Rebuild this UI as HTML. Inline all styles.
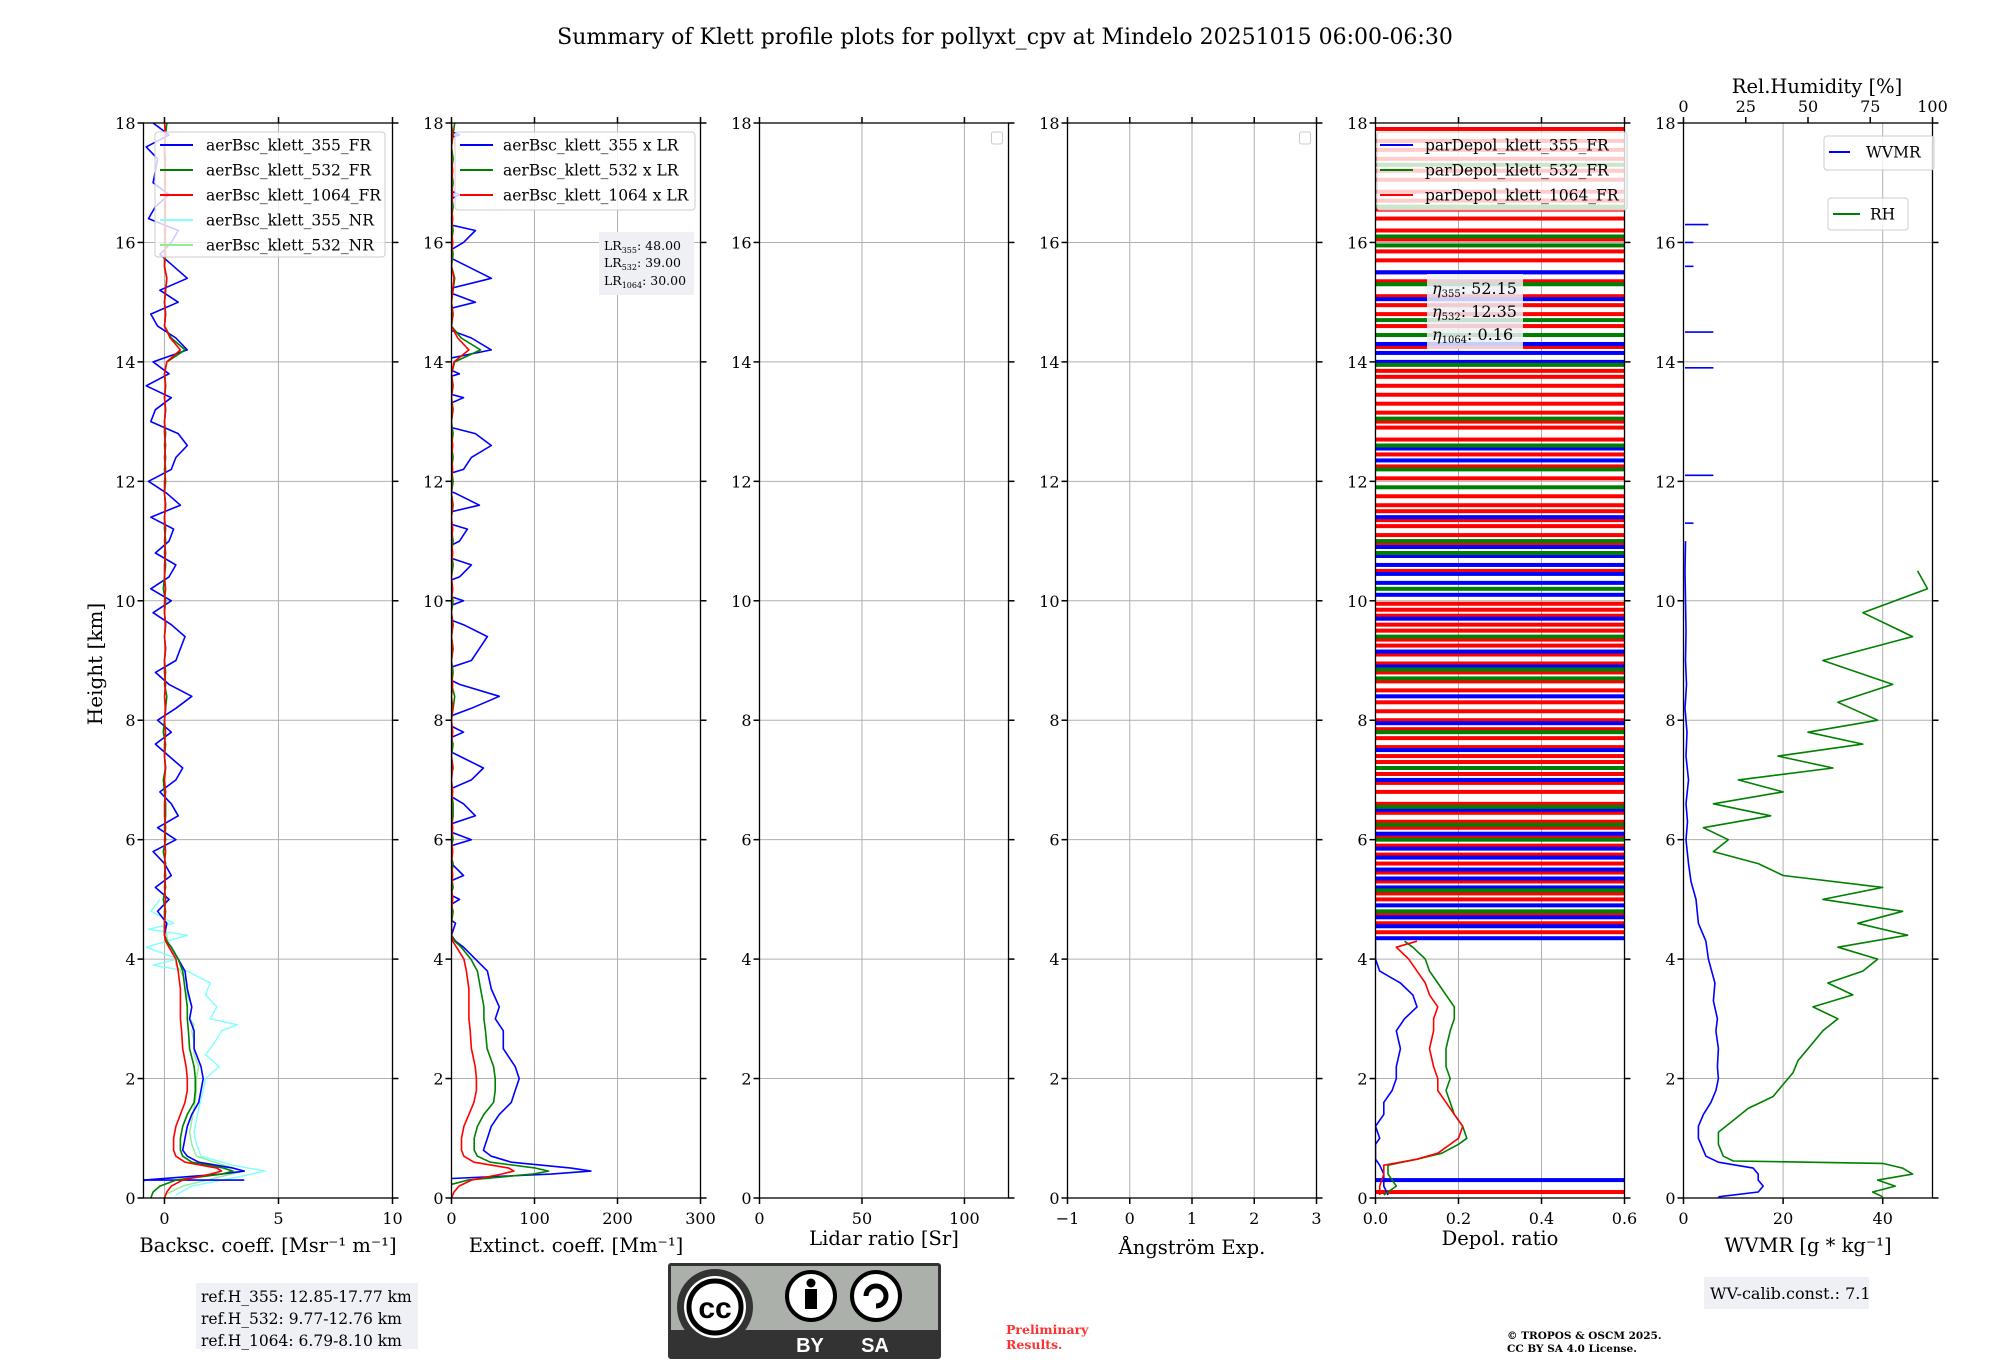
<!DOCTYPE html>
<html><head><meta charset="utf-8">
<style>
html,body{margin:0;padding:0;background:#fff;}
svg{display:block;font-family:"DejaVu Serif","Liberation Serif",serif;}
</style></head>
<body>
<svg id="chart" width="2000" height="1360" viewBox="0 0 2000 1360" xmlns="http://www.w3.org/2000/svg">
<text x="1005" y="44" font-size="22" text-anchor="middle">Summary of Klett profile plots for pollyxt_cpv at Mindelo 20251015 06:00-06:30</text>
<text transform="translate(102,664) rotate(-90)" font-size="20" text-anchor="middle">Height [km]</text>
<g id="panels"></g>
<g>
<rect x="196" y="1283" width="222" height="66" fill="#eef0f5"/>
<text x="201" y="1302" font-size="15.5">ref.H_355: 12.85-17.77 km</text>
<text x="201" y="1324" font-size="15.5">ref.H_532: 9.77-12.76 km</text>
<text x="201" y="1346" font-size="15.5">ref.H_1064: 6.79-8.10 km</text>
</g>
<g>
<rect x="668" y="1263" width="273" height="96" rx="3" fill="#333" />
<rect x="671" y="1266" width="267" height="64" fill="#abb1aa"/>
<circle cx="715" cy="1307" r="38" fill="#333"/>
<circle cx="715" cy="1307" r="31" fill="#fff"/>
<circle cx="715" cy="1307" r="26" fill="none" stroke="#000" stroke-width="5"/>
<text x="715" y="1318" font-family="Liberation Sans,sans-serif" font-weight="bold" font-size="30" text-anchor="middle">cc</text>
<circle cx="811" cy="1296" r="24" fill="#fff" stroke="#000" stroke-width="4"/>
<circle cx="811" cy="1283" r="4.5" fill="#000"/>
<rect x="805" y="1289" width="12" height="20" fill="#000"/>
<circle cx="876" cy="1296" r="24" fill="#fff" stroke="#000" stroke-width="4"/>
<path d="M866 1296 A10 10 0 1 1 876 1306" fill="none" stroke="#000" stroke-width="5"/>
<text x="810" y="1352" fill="#fff" font-family="Liberation Sans,sans-serif" font-weight="bold" font-size="20" text-anchor="middle">BY</text>
<text x="875" y="1352" fill="#fff" font-family="Liberation Sans,sans-serif" font-weight="bold" font-size="20" text-anchor="middle">SA</text>
</g>
<text x="1006" y="1334" font-size="12.5" font-weight="bold" fill="#ff3030">Preliminary</text>
<text x="1006" y="1349" font-size="12.5" font-weight="bold" fill="#ff3030">Results.</text>
<text x="1507" y="1339" font-size="10.5" font-weight="bold">© TROPOS &amp; OSCM 2025.</text>
<text x="1507" y="1352" font-size="10.5" font-weight="bold">CC BY SA 4.0 License.</text>
<g>
<rect x="1704" y="1277" width="165" height="32" fill="#eef0f5"/>
<text x="1710" y="1299" font-size="16">WV-calib.const.: 7.1</text>
</g>
</svg>
<script>
const bscH = [0.0,0.1,0.2,0.3,0.4,0.45,0.5,0.6,0.7,0.8,1.0,1.2,1.4,1.6,1.8,2.0,2.2,2.5,2.8,3.0,3.2,3.5,3.8,4.0,4.2,4.3,4.4];
const bsc355 = [-1.0,-1.0,-1.0,-0.9,2.5,3.5,3.0,1.5,1.0,0.8,0.9,1.0,1.2,1.5,1.6,1.7,1.6,1.3,1.3,1.1,1.2,1.0,0.9,0.6,0.3,0.1,0.0];
const bsc532 = [-0.6,-0.5,-0.2,0.5,2.5,3.0,2.6,1.2,0.8,0.7,0.7,0.8,1.0,1.3,1.35,1.35,1.3,1.1,1.05,1.0,1.0,0.9,0.8,0.6,0.3,0.1,0.0];
const bsc1064 = [0.0,0.1,0.3,0.8,2.0,2.5,2.3,0.9,0.5,0.4,0.4,0.5,0.7,0.9,1.0,1.0,0.95,0.8,0.75,0.7,0.7,0.7,0.6,0.5,0.2,0.05,0.0];
const ftH355 = [4.6,4.8,5.0,5.2,5.4,5.6,5.8,6.0,6.2,6.4,6.6,6.8,7.0,7.2,7.4,7.6,7.8,8.0,8.2,8.4,8.6,8.8,9.0,9.2,9.4,9.6,9.8,10.0,10.2,10.4,10.6,10.8,11.0,11.2,11.4,11.6,11.8,12.0,12.2,12.4,12.6,12.8,13.0,13.2,13.4,13.6,13.8,14.0,14.2,14.4,14.6,14.8,15.0,15.2,15.4,15.6,15.8,16.0,16.2,16.4,16.6,16.8,17.0,17.2,17.4,17.6,17.8,18.0];
const ftBsc355 = [0.1,-0.3,0.2,-0.4,0.3,0.0,-0.5,0.5,-0.3,0.6,0.3,-0.2,0.5,0.8,0.2,-0.4,0.3,-0.3,0.5,1.2,0.2,-0.4,0.5,0.7,0.9,0.3,-0.5,0.3,-0.6,0.2,0.5,-0.4,0.2,0.4,-0.6,0.7,0.1,-0.7,0.3,0.5,1.0,0.6,-0.6,-0.4,0.3,-0.8,0.2,-0.5,1.0,0.5,-0.3,-0.6,0.6,-0.2,1.0,0.4,-0.2,0.3,0.6,-0.7,-0.4,0.2,-0.5,-0.4,-0.3,-0.8,0.2,-0.5];
const ftBsc532 = [0.0,0.05,-0.05,0.05,0.0,0.05,-0.05,0.05,0.0,0.05,0.05,0.0,-0.05,0.05,0.0,0.05,-0.05,0.0,0.05,0.1,0.0,0.05,0.0,0.05,0.0,0.05,0.0,0.05,-0.05,0.0,0.05,0.0,0.05,0.0,0.0,0.05,0.0,0.05,0.0,0.05,0.0,0.05,0.0,0.05,0.0,0.05,0.0,0.1,0.9,0.3,0.0,0.05,0.0,0.05,0.1,0.0,0.05,0.0,0.05,0.0,0.05,0.0,0.05,0.0,0.05,0.0,0.05,0.1];
const ftBsc1064 = [0.0,0.0,0.05,0.0,0.05,0.0,0.05,0.0,0.05,0.0,0.0,0.05,0.0,0.05,0.0,0.0,0.05,0.0,0.05,0.0,0.05,0.0,0.0,0.05,0.0,0.05,0.0,0.0,0.05,0.0,0.0,0.05,0.0,0.05,0.0,0.05,0.0,0.0,0.05,0.0,0.05,0.0,0.0,0.05,0.0,0.05,0.0,0.1,0.7,0.25,0.0,0.05,0.0,0.05,0.1,0.0,0.0,0.05,0.0,0.05,0.0,0.05,0.0,0.05,0.0,0.0,0.05,0.0];
const nrH = [0.05,0.2,0.35,0.45,0.55,0.7,0.9,1.1,1.3,1.5,1.8,2.0,2.2,2.4,2.6,2.8,2.9,3.0,3.2,3.4,3.6,3.8,3.9,4.0,4.2,4.4,4.5,4.6,4.8,5.0];
const bsc355NR = [0.5,1.2,3.2,4.4,3.0,1.6,1.4,1.3,1.4,1.5,1.7,1.8,2.4,1.8,2.2,2.5,3.2,2.0,2.3,1.8,2.0,1.0,-0.5,0.6,-0.8,1.0,-0.7,0.4,-0.6,-0.2];
const bsc532NR = [0.0,0.8,2.4,3.5,2.6,1.4,1.2,1.1,1.2,1.3,1.4,1.4,1.5,1.3,1.3,1.2,1.3,1.1,1.2,1.0,1.0,0.7,0.5,0.5,0.2,0.1,0.0,0.0,0.0,0.0];
const LR355 = 48, LR532 = 39, LR1064 = 30;
const depH = [0.05,0.2,0.4,0.55,0.65,0.75,0.9,1.0,1.2,1.4,1.6,1.8,2.0,2.2,2.5,2.8,3.0,3.2,3.4,3.6,3.8,4.0,4.2,4.3];
const dep355 = [0.03,0.02,0.02,0.01,0.0,0.0,0.0,0.01,0.0,0.02,0.02,0.04,0.05,0.05,0.06,0.05,0.07,0.1,0.09,0.06,0.01,0.0,0.0,0.0];
const dep532 = [0.02,0.05,0.03,0.03,0.1,0.16,0.2,0.22,0.21,0.19,0.18,0.17,0.18,0.17,0.17,0.18,0.19,0.19,0.17,0.15,0.13,0.12,0.09,0.07];
const dep1064 = [0.01,0.01,0.02,0.02,0.1,0.15,0.18,0.2,0.21,0.19,0.17,0.15,0.15,0.14,0.13,0.14,0.14,0.15,0.13,0.12,0.1,0.08,0.05,0.1];
const spike355 = [0.3,4.35,4.55,4.7,4.9,5.2,5.35,5.5,5.7,5.85,6.1,6.5,7.0,7.5,7.95,8.4,8.9,9.15,9.7,10.1,10.3,10.45,10.6,10.75,10.9,11.4,12.35,12.55,14.0,14.15,14.3,15.05,15.5];
const spike532 = [4.8,5.15,6.0,6.25,6.55,7.2,7.8,8.7,8.85,9.4,10.2,10.8,11.0,11.9,12.2,12.6,13.05,13.95,14.45,14.7,15.3,15.95,16.1,16.6,17.3];
const spike1064 = [0.1,4.45,4.6,4.75,5.0,5.1,5.3,5.45,5.6,5.75,5.9,6.05,6.2,6.3,6.45,6.6,6.8,6.95,7.1,7.3,7.4,7.55,7.7,7.85,8.0,8.15,8.3,8.5,8.65,8.8,8.95,9.1,9.25,9.35,9.5,9.6,9.75,9.85,9.95,10.5,10.95,11.1,11.25,11.35,11.5,11.6,11.75,12.05,12.25,12.45,12.7,12.9,13.0,13.15,13.3,13.45,13.6,13.75,13.85,14.25,14.6,14.8,14.95,15.1,15.35,15.5,15.7,15.85,16.05,16.2,16.4,16.55,16.7,16.85,17.05,17.2,17.4,17.55,17.7,17.9];
const wvH = [0.02,0.1,0.2,0.3,0.4,0.5,0.6,0.7,0.8,1.0,1.2,1.4,1.6,1.8,2.0,2.2,2.5,2.8,3.0,3.3,3.6,4.0,4.3,4.6,5.0,5.3,5.6,6.0,6.3,6.6,7.0,7.4,7.8,8.2,8.6,9.0,9.5,10.0,10.5,11.0];
const wvmr = [7,15,16,15,15,14,7,4.5,4,3,3,4,5.5,6.5,7,6.8,7,6.5,6.8,6,6.3,5,4.5,3,2.5,1.5,1,0.5,0.8,0.5,1,0.5,0.7,0.3,0.6,0.4,0.5,0.4,0.3,0.4];
const rhH = [0.02,0.1,0.2,0.3,0.4,0.5,0.58,0.62,0.7,0.9,1.1,1.3,1.5,1.7,1.9,2.1,2.3,2.5,2.8,3.0,3.2,3.4,3.6,3.8,4.0,4.2,4.4,4.6,4.8,5.0,5.2,5.4,5.6,5.8,6.0,6.2,6.4,6.6,6.8,7.0,7.2,7.4,7.6,7.8,8.0,8.3,8.6,9.0,9.4,9.8,10.2,10.5];
const rh = [80,76,85,78,92,88,80,20,16,14,14,20,26,36,40,44,46,50,56,62,52,68,58,72,78,62,90,70,88,56,80,40,30,12,18,8,35,12,40,22,60,38,72,50,78,62,84,56,92,72,98,94];
const wvHigh = [[11.3,2],[12.1,6],[13.9,6],[14.5,6],[15.6,2],[16.0,2],[16.3,5]];

const TOP = 123, BOT = 1198, W = 249;
const LEFTS = [143.5, 451.5, 759.5, 1067.5, 1375.5, 1683.5];
const XR = [[-0.92,10],[0,300],[0,121.5],[-1,3],[0,0.6],[0,50]];
const XT = [[0,5,10],[0,100,200,300],[0,50,100],[-1,0,1,2,3],[0,0.2,0.4,0.6],[0,20,40]];
const XTL = [["0","5","10"],["0","100","200","300"],["0","50","100"],["\u22121","0","1","2","3"],["0.0","0.2","0.4","0.6"],["0","20","40"]];
const YT = [0,2,4,6,8,10,12,14,16,18];
const NS = "http://www.w3.org/2000/svg";
const root = document.getElementById('panels');
function yS(h){ return BOT - h*(BOT-TOP)/18; }
function xS(p,v){ const r=XR[p]; return LEFTS[p] + (v-r[0])/(r[1]-r[0])*W; }
function mk(tag, attrs, parent){ const e=document.createElementNS(NS,tag); for(const k in attrs) e.setAttribute(k,attrs[k]); (parent||root).appendChild(e); return e; }

const defs = mk('defs',{});
for(let p=0;p<6;p++){
  const cp = mk('clipPath',{id:'clip'+p},defs);
  mk('rect',{x:LEFTS[p],y:TOP,width:W,height:BOT-TOP},cp);
}

const xlabels = ["Backsc. coeff. [Msr\u207B\u00B9 m\u207B\u00B9]","Extinct. coeff. [Mm\u207B\u00B9]","Lidar ratio [Sr]","\u00C5ngstr\u00F6m Exp.","Depol. ratio","WVMR [g * kg\u207B\u00B9]"];
const xlabelY = [1252,1252,1245,1254,1245,1252];
for(let p=0;p<6;p++){
  const g = mk('g',{});
  
  
  const L = LEFTS[p];
  for(const v of XT[p]){
    const gl = mk('line',{x1:xS(p,v),x2:xS(p,v),y1:TOP,y2:BOT,stroke:'#b0b0b0','stroke-width':1},g);
    
    
  }
  for(const h of YT){
    const gl = mk('line',{x1:L,x2:L+W,y1:yS(h),y2:yS(h),stroke:'#b0b0b0','stroke-width':1},g);
    
    
  }
  const pg = mk('g',{'clip-path':'url(#clip'+p+')'},g);
  
  
  const fr = mk('rect',{x:L,y:TOP,width:W,height:BOT-TOP,fill:'none',stroke:'#000','stroke-width':1.3},g);
  
  
  for(const h of YT){
    mk('line',{x1:L-6,x2:L,y1:yS(h),y2:yS(h),stroke:'#000','stroke-width':1.5},g);
    mk('line',{x1:L+W,x2:L+W+6,y1:yS(h),y2:yS(h),stroke:'#000','stroke-width':1.5},g);
    const t = mk('text',{x:L-8,y:yS(h)+6,'font-size':16,'text-anchor':'end'},g);
    
    
    t.textContent = String(h);
  }
  XT[p].forEach((v,i)=>{
    mk('line',{x1:xS(p,v),x2:xS(p,v),y1:BOT,y2:BOT+6,stroke:'#000','stroke-width':1.5},g);
    if(p<5) mk('line',{x1:xS(p,v),x2:xS(p,v),y1:TOP-6,y2:TOP,stroke:'#000','stroke-width':1.5},g);
    const t = mk('text',{x:xS(p,v),y:BOT+26,'font-size':16,'text-anchor':'middle'},g);
    
    
    t.textContent = XTL[p][i];
  });
  const xl = mk('text',{x:L+W/2,y:xlabelY[p],'font-size':19.5,'text-anchor':'middle'},g);
  
  
  xl.textContent = xlabels[p];
  root['p'+p] = pg;
}

function line(p, hs, vs, color, width, name){
  const pts = hs.map((h,i)=> xS(p,vs[i]).toFixed(1)+','+yS(h).toFixed(1)).join(' ');
  const e = mk('polyline',{points:pts,fill:'none',stroke:color,'stroke-width':width||1.6,'stroke-linejoin':'round'},root['p'+p]);
  
  
  return e;
}
const allH = bscH.concat(ftH355);
line(0, nrH, bsc355NR, '#80ffff', 1.4, 'series-bsc-355-nr');
line(0, nrH, bsc532NR, '#90ee90', 1.4, 'series-bsc-532-nr');
line(0, [0.3,0.3], [-1,3.5], 'blue', 1.6, 'series-bsc-355-fr-base');
line(0, allH, bsc355.concat(ftBsc355), 'blue', 1.6, 'series-bsc-355-fr');
line(0, allH, bsc532.concat(ftBsc532), 'green', 1.6, 'series-bsc-532-fr');
line(0, allH, bsc1064.concat(ftBsc1064), 'red', 1.6, 'series-bsc-1064-fr');
line(1, allH, bsc355.concat(ftBsc355).map(v=>v*LR355), 'blue', 1.6, 'series-ext-355');
line(1, allH, bsc532.concat(ftBsc532).map(v=>v*LR532), 'green', 1.6, 'series-ext-532');
line(1, allH, bsc1064.concat(ftBsc1064).map(v=>v*LR1064), 'red', 1.6, 'series-ext-1064');
function spikes(list,color,name){
  for(const h of list){
    const e = mk('rect',{x:LEFTS[4],y:yS(h)-2,width:W,height:4,fill:color},root.p4);
    
    
  }
}
spikes(spike1064,'red','depol-1064-spike');
spikes(spike355,'blue','depol-355-spike');
spikes(spike532,'green','depol-532-spike');
line(4, depH, dep355, 'blue', 1.6, 'series-depol-355');
line(4, depH, dep532, 'green', 1.6, 'series-depol-532');
line(4, depH, dep1064, 'red', 1.6, 'series-depol-1064');
line(5, rhH, rh.map(v=>v/2), 'green', 1.6, 'series-rh');
line(5, wvH, wvmr, 'blue', 1.6, 'series-wvmr');
for(const d of wvHigh){
  const e = mk('line',{x1:xS(5,0.3),x2:xS(5,d[1]),y1:yS(d[0]),y2:yS(d[0]),stroke:'blue','stroke-width':1.6},root.p5);
  
  
}
const rhTicks = [0,25,50,75,100];
for(const v of rhTicks){
  const x = xS(5, v/2);
  mk('line',{x1:x,x2:x,y1:TOP-6,y2:TOP,stroke:'#000','stroke-width':1.5});
  const t = mk('text',{x:x,y:TOP-11,'font-size':16,'text-anchor':'middle'});
  
  
  t.textContent = String(v);
}
const rht = mk('text',{x:1817,y:93,'font-size':19.5,'text-anchor':'middle'});


rht.textContent = 'Rel.Humidity [%]';

function legend(x,y,w,h,entries,name,textX,sampleX0,sampleX1,fs){
  const g = mk('g',{});
  
  
  mk('rect',{x:x,y:y,width:w,height:h,rx:3,fill:'#fff','fill-opacity':0.8,stroke:'#ccc','stroke-width':1},g);
  entries.forEach(en=>{
    mk('line',{x1:sampleX0,x2:sampleX1,y1:en[2],y2:en[2],stroke:en[1],'stroke-width':2},g);
    const t = mk('text',{x:textX,y:en[2]+5.5,'font-size':fs||15.5},g);
    
    
    t.textContent = en[0];
  });
}
legend(155,132,230,125,[['aerBsc_klett_355_FR','blue',145],['aerBsc_klett_532_FR','green',170],['aerBsc_klett_1064_FR','red',195],['aerBsc_klett_355_NR','#80ffff',220],['aerBsc_klett_532_NR','#90ee90',245]],'legend-backscatter',206,160,193);
legend(455,132,240,78,[['aerBsc_klett_355 x LR','blue',145],['aerBsc_klett_532 x LR','green',170],['aerBsc_klett_1064 x LR','red',195]],'legend-extinction',503,460,493);
legend(1377,132,250,78,[['parDepol_klett_355_FR','blue',145],['parDepol_klett_532_FR','green',170],['parDepol_klett_1064_FR','red',195]],'legend-depol',1425,1380,1413);
legend(1824,136,110,34,[['WVMR','blue',152]],'legend-wvmr',1866,1829,1850);
legend(1828,198,80,32,[['RH','green',214]],'legend-rh',1870,1833,1860);
for(const p of [2,3]){
  const e = mk('rect',{x:LEFTS[p]+W-17,y:132,width:11,height:12,rx:2,fill:'#fff',stroke:'#ccc'});
  
  
}
const lrg = mk('g',{});


mk('rect',{x:599,y:232,width:95,height:63,fill:'#eef0f5'},lrg);
[['355',LR355,250],['532',LR532,267],['1064',LR1064,285]].forEach(r=>{
  const t = mk('text',{x:604,y:r[2],'font-size':12.5},lrg);
  t.innerHTML = 'LR<tspan font-size="8" dy="3">'+r[0]+'</tspan><tspan dy="-3">: '+r[1].toFixed(2)+'</tspan>';
});
const eg = mk('g',{});


mk('rect',{x:1427,y:274,width:96,height:75,fill:'#eef0f5','fill-opacity':0.85},eg);
[['355','52.15',294],['532','12.35',317],['1064','0.16',340]].forEach(r=>{
  const t = mk('text',{x:1432,y:r[2],'font-size':16},eg);
  t.innerHTML = '<tspan font-style="italic">\u03B7</tspan><tspan font-size="10" dy="3">'+r[0]+'</tspan><tspan dy="-3">: '+r[1]+'</tspan>';
});
</script>
</body></html>
